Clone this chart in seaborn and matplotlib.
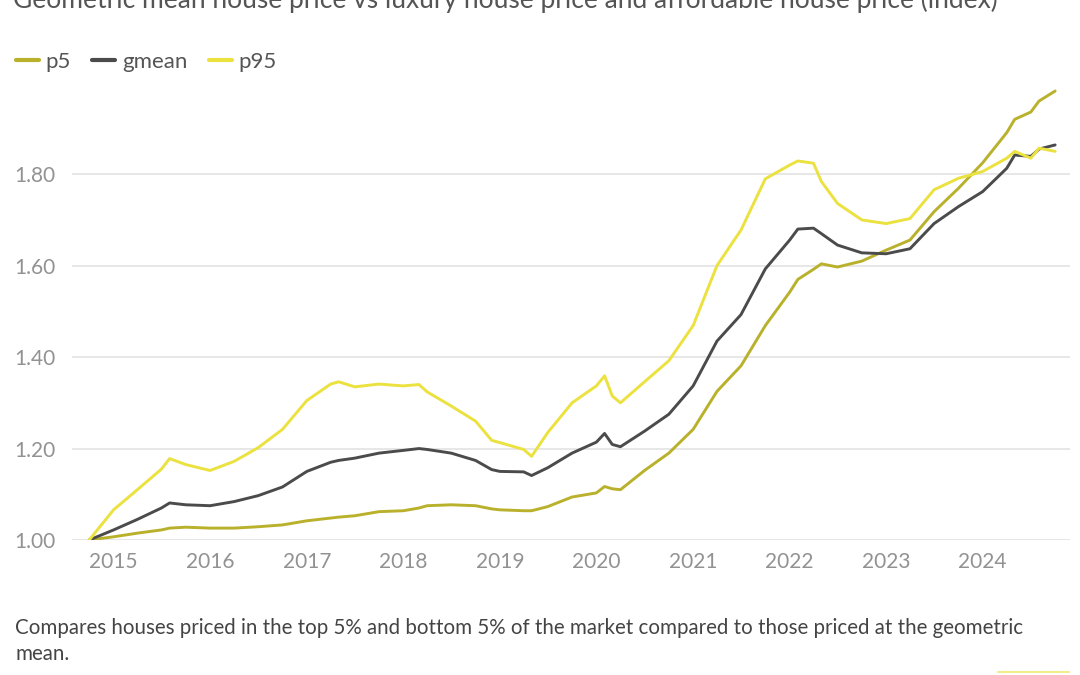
import pandas as pd
import seaborn as sns
import matplotlib.pyplot as plt
import matplotlib.dates as mdates

# values (index, Oct 2014 = 1.00)
months = [
    "2014-10", "2015-01", "2015-04", "2015-07", "2015-08", "2015-10",
    "2016-01", "2016-04", "2016-07", "2016-10", "2017-01", "2017-04",
    "2017-05", "2017-07", "2017-10", "2018-01", "2018-03", "2018-04",
    "2018-07", "2018-10", "2018-12", "2019-01", "2019-04", "2019-05",
    "2019-07", "2019-10", "2020-01", "2020-02", "2020-03", "2020-04",
    "2020-07", "2020-10", "2021-01", "2021-04", "2021-07", "2021-10",
    "2022-01", "2022-02", "2022-04", "2022-05", "2022-07", "2022-10",
    "2023-01", "2023-04", "2023-07", "2023-10", "2024-01", "2024-04",
    "2024-05", "2024-07", "2024-08", "2024-10",
]
p5 = [
    1.000, 1.007, 1.015, 1.022, 1.026, 1.028,
    1.026, 1.026, 1.029, 1.033, 1.042, 1.048,
    1.050, 1.053, 1.062, 1.064, 1.070, 1.075,
    1.077, 1.075, 1.068, 1.066, 1.064, 1.064,
    1.073, 1.094, 1.103, 1.117, 1.112, 1.110,
    1.152, 1.190, 1.242, 1.325, 1.381, 1.469,
    1.542, 1.570, 1.592, 1.604, 1.597, 1.610,
    1.634, 1.656, 1.718, 1.769, 1.825, 1.891,
    1.920, 1.936, 1.960, 1.982,
]
gmean = [
    1.000, 1.022, 1.045, 1.070, 1.081, 1.077,
    1.075, 1.084, 1.097, 1.116, 1.150, 1.170,
    1.174, 1.179, 1.190, 1.196, 1.200, 1.198,
    1.190, 1.174, 1.154, 1.150, 1.149, 1.141,
    1.158, 1.190, 1.214, 1.233, 1.209, 1.204,
    1.238, 1.275, 1.337, 1.435, 1.493, 1.593,
    1.656, 1.680, 1.682, 1.670, 1.645, 1.628,
    1.626, 1.637, 1.692, 1.729, 1.762, 1.813,
    1.842, 1.839, 1.855, 1.864,
]
p95 = [
    1.000, 1.066, 1.110, 1.155, 1.178, 1.165,
    1.152, 1.172, 1.202, 1.242, 1.305, 1.341,
    1.346, 1.335, 1.341, 1.337, 1.340, 1.324,
    1.293, 1.260, 1.218, 1.213, 1.198, 1.183,
    1.235, 1.300, 1.337, 1.359, 1.315, 1.300,
    1.346, 1.392, 1.469, 1.600, 1.678, 1.790,
    1.820, 1.829, 1.824, 1.784, 1.736, 1.700,
    1.692, 1.703, 1.766, 1.791, 1.806, 1.835,
    1.850, 1.835, 1.857, 1.850,
]
series_names = ["p5", "gmean", "p95"]
colors = {"p5": "#b9b12c", "gmean": "#4b4b4b", "p95": "#ebe13f"}
year_ticks = list(range(2015, 2025))
y_ticks = [1.00, 1.20, 1.40, 1.60, 1.80]

title = "Geometric mean house price vs luxury house price and affordable house price (index)"
caption = ("Compares houses priced in the top 5% and bottom 5% of the market compared to those priced at the geometric\n"
           "mean.")

df = pd.DataFrame({"date": pd.to_datetime(months), "p5": p5, "gmean": gmean, "p95": p95})
long_df = df.melt(id_vars="date", value_vars=series_names, var_name="series", value_name="index")

sns.set_theme(style="white")
plt.rcParams["font.family"] = ["Lato", "DejaVu Sans"]

fig = plt.figure(figsize=(10.8, 6.75), dpi=100)
ax = fig.add_axes([0.0667, 0.2, 0.924, 0.674])

sns.lineplot(data=long_df, x="date", y="index", hue="series", hue_order=series_names,
             palette=colors, linewidth=2.1, ax=ax, legend=False)

ax.set_xlim(pd.Timestamp("2014-07-28"), pd.Timestamp("2024-11-26"))
ax.set_ylim(1.0, 1.995)
ax.set_yticks(y_ticks)
ax.set_yticklabels([f"{v:.2f}" for v in y_ticks])
ax.set_xticks([pd.Timestamp(f"{y}-01-01") for y in year_ticks])
ax.xaxis.set_major_formatter(mdates.DateFormatter("%Y"))
ax.grid(axis="y", color="#e3e3e3", linewidth=1.2)
ax.grid(axis="x", visible=False)
ax.set_axisbelow(True)
for s in ax.spines.values():
    s.set_visible(False)
ax.tick_params(axis="both", length=0, labelsize=15, labelcolor="#929292")
ax.tick_params(axis="x", pad=9)
ax.tick_params(axis="y", pad=12)
ax.set_xlabel("")
ax.set_ylabel("")

# legend at the top left
handles = [plt.Line2D([], [], color=colors[n], linewidth=3) for n in series_names]
fig.legend(handles, series_names, loc="center left", bbox_to_anchor=(-0.004, 0.908),
           ncol=3, frameon=False, fontsize=16, handlelength=1.05, handletextpad=0.3,
           columnspacing=0.95, labelcolor="#555555")

# title cut off by the top edge, as in the reference
fig.text(0.012, 0.988, title, fontsize=19, color="#555555", va="baseline", ha="left")
fig.text(0.014, 0.016, caption, fontsize=14.8, color="#444444", va="bottom", ha="left",
         linespacing=1.4)
fig.add_artist(plt.Line2D([0.924, 0.99], [0.004, 0.004], color="#f3ec8a", linewidth=1.5))

fig.savefig("out.png", dpi=100)
